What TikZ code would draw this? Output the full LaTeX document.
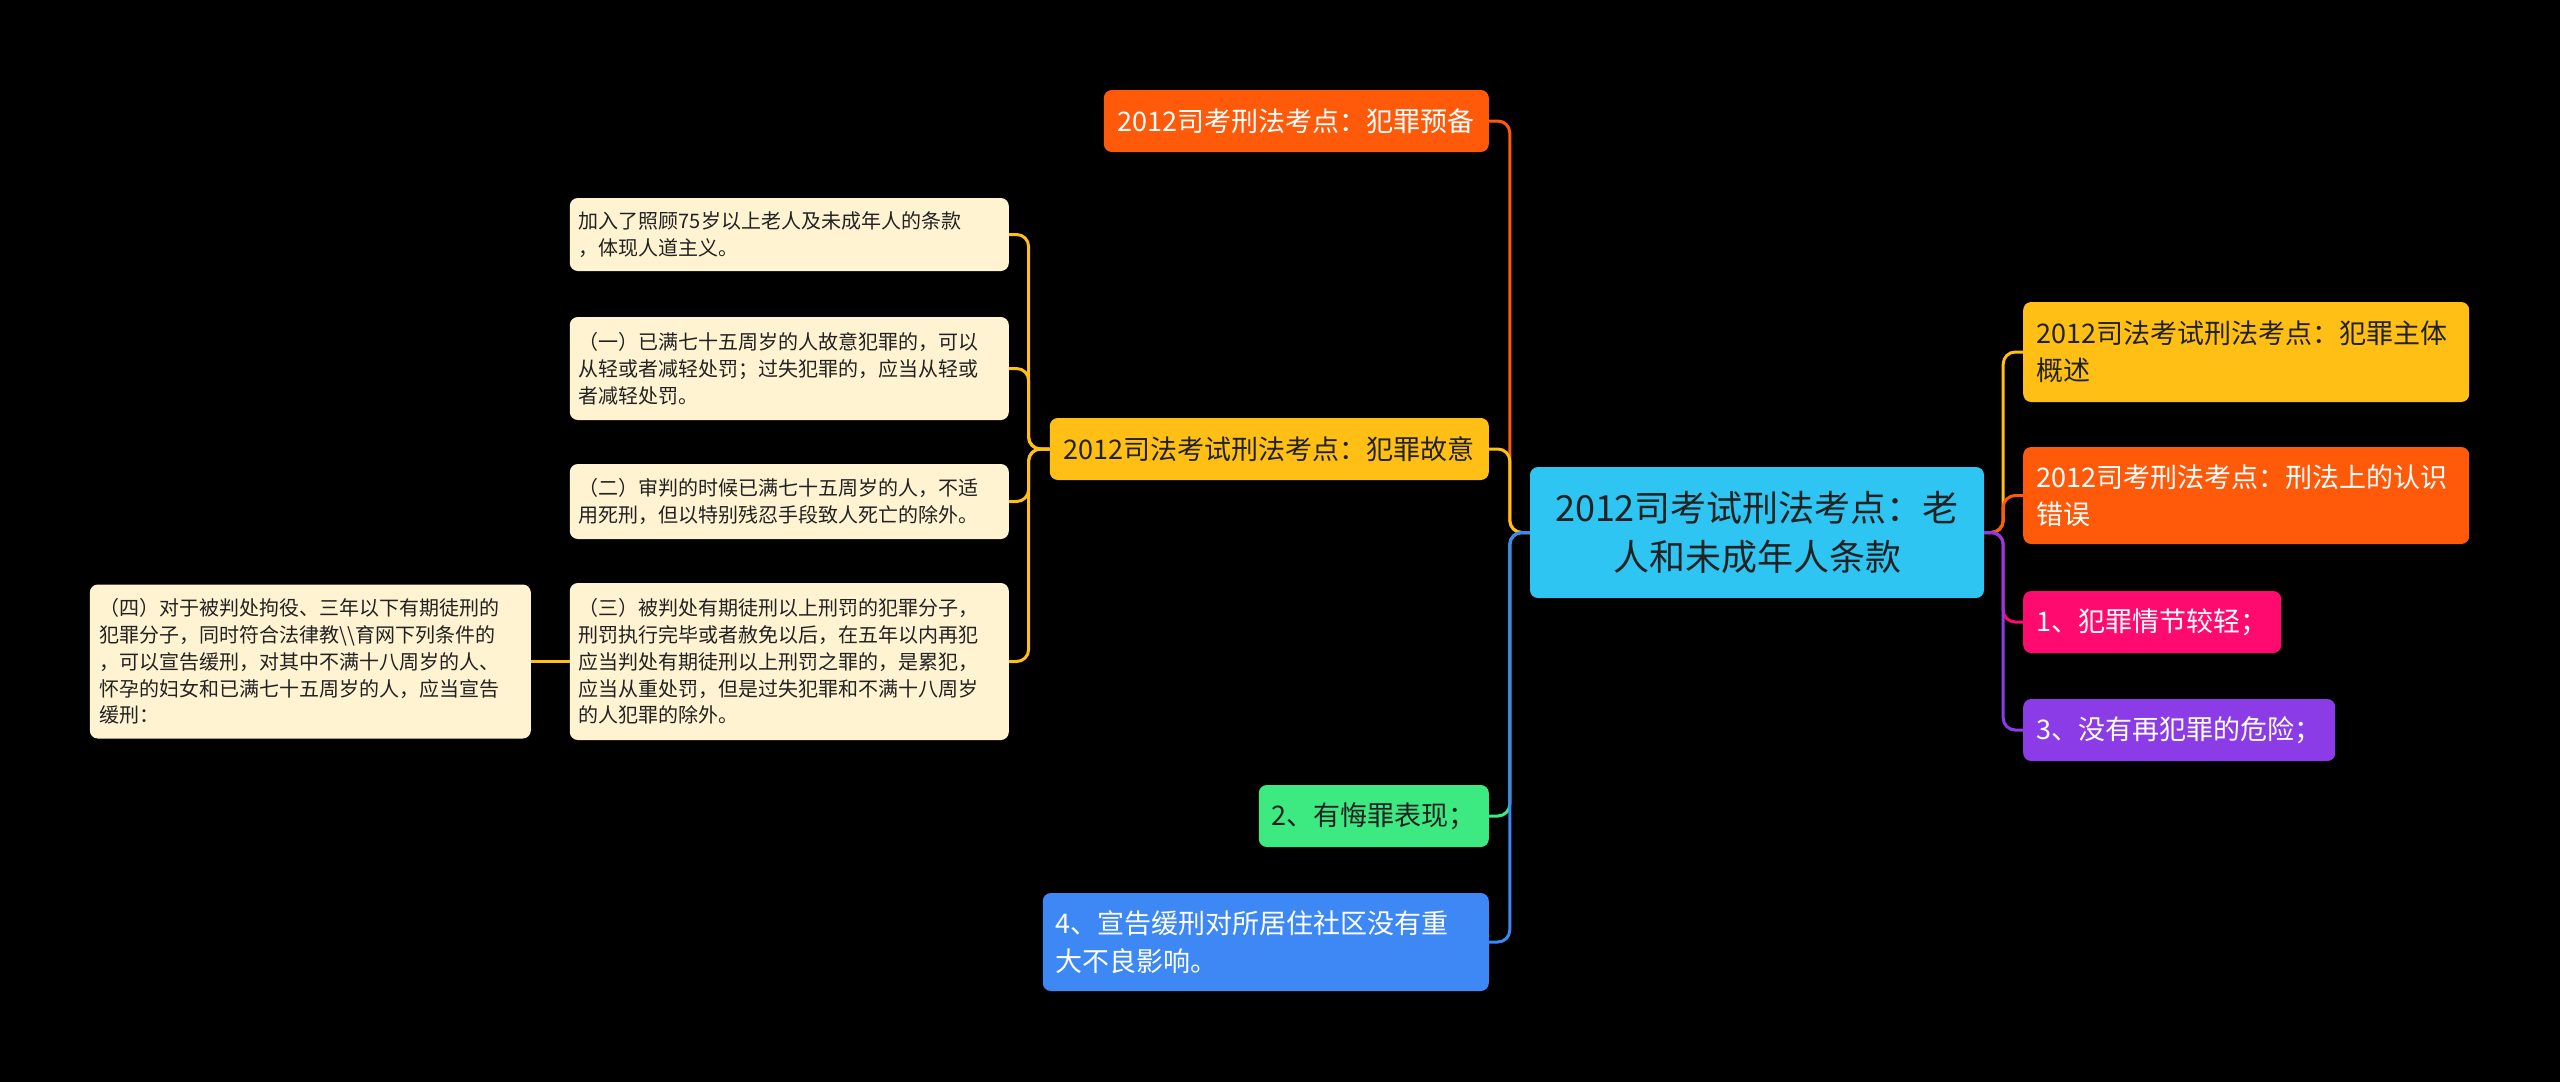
\documentclass[tikz,border=0pt]{standalone}
\usepackage{fontspec}
\setmainfont{Noto Sans CJK SC}
\usetikzlibrary{positioning}

\definecolor{rootblue}{HTML}{2EC5F2}
\definecolor{topicyellow}{HTML}{FFBF14}
\definecolor{topicorange}{HTML}{FF5A0A}
\definecolor{topicpink}{HTML}{FF0A6E}
\definecolor{topicpurple}{HTML}{8C3CE6}
\definecolor{topicgreen}{HTML}{3DEA82}
\definecolor{topicblue}{HTML}{3D88F5}
\definecolor{leafcream}{HTML}{FFF3D2}
\definecolor{darktext}{HTML}{222222}

\begin{document}
\begin{tikzpicture}[
        x=1pt, y=-1pt,
        every node/.style={rounded corners=8pt, inner xsep=0pt, inner ysep=0pt},
        central/.style={fill=rootblue, text=darktext, font=\fontsize{36}{49}\selectfont, align=center, text width=420pt, minimum width=454pt, minimum height=131pt},
        topic/.style={font=\fontsize{27}{37.5}\selectfont, minimum height=62pt},
        wide/.style={text width=420pt, minimum width=446pt, align=left},
        leaf/.style={fill=leafcream, text=darktext, font=\fontsize{20}{26.8}\selectfont, align=left, text width=421pt, minimum width=439pt},
        link/.style={line width=3pt, rounded corners=12pt}
    ]

    % Background
    \fill[black] (0,0) rectangle (2560,1082);

    % Central topic
    \node[central] (root) at (1757,532.5) {2012司考试刑法考点：老\\人和未成年人条款};

    % Right branches
    \node[topic, wide, fill=topicyellow, text=darktext, minimum height=100pt, anchor=west] (subject) at (2023,352) {2012司法考试刑法考点：犯罪主体\\概述};
    \node[topic, wide, fill=topicorange, text=white, minimum height=97pt, anchor=west] (mistake) at (2023,495.5) {2012司考刑法考点：刑法上的认识\\错误};
    \node[topic, fill=topicpink, text=white, minimum width=258pt, anchor=west] (minor) at (2023,622) {1、犯罪情节较轻；};
    \node[topic, fill=topicpurple, text=white, minimum width=312pt, anchor=west] (norisk) at (2023,730) {3、没有再犯罪的危险；};

    % Left branches
    \node[topic, fill=topicorange, text=white, minimum width=385pt, anchor=east] (prep) at (1489,121) {2012司考刑法考点：犯罪预备};
    \node[topic, fill=topicyellow, text=darktext, minimum width=439pt, anchor=east] (intent) at (1489,449) {2012司法考试刑法考点：犯罪故意};
    \node[topic, fill=topicgreen, text=darktext, minimum width=230pt, anchor=east] (repent) at (1489,816) {2、有悔罪表现；};
    \node[topic, wide, fill=topicblue, text=white, minimum height=98pt, anchor=east] (community) at (1489,942) {4、宣告缓刑对所居住社区没有重\\大不良影响。};

    % Details of intent
    \node[leaf, minimum height=73pt, anchor=east] (humane) at (1009,234.5) {加入了照顾75岁以上老人及未成年人的条款\\，体现人道主义。};
    \node[leaf, minimum height=103pt, anchor=east] (elderly) at (1009,368.5) {（一）已满七十五周岁的人故意犯罪的，可以\\从轻或者减轻处罚；过失犯罪的，应当从轻或\\者减轻处罚。};
    \node[leaf, minimum height=75pt, anchor=east] (death) at (1009,501.5) {（二）审判的时候已满七十五周岁的人，不适\\用死刑，但以特别残忍手段致人死亡的除外。};
    \node[leaf, minimum height=157pt, anchor=east] (recid) at (1009,661.5) {（三）被判处有期徒刑以上刑罚的犯罪分子，\\刑罚执行完毕或者赦免以后，在五年以内再犯\\应当判处有期徒刑以上刑罚之罪的，是累犯，\\应当从重处罚，但是过失犯罪和不满十八周岁\\的人犯罪的除外。};
    \node[leaf, minimum width=441pt, minimum height=154pt, anchor=east] (probation) at (531,661.5) {（四）对于被判处拘役、三年以下有期徒刑的\\犯罪分子，同时符合法律教\textbackslash\textbackslash 育网下列条件的\\，可以宣告缓刑，对其中不满十八周岁的人、\\怀孕的妇女和已满七十五周岁的人，应当宣告\\缓刑：};

    % Connectors
    \foreach \n/\c in {prep/topicorange, intent/topicyellow, repent/topicgreen, community/topicblue}
        \draw[link, draw=\c] (root.west) -- ++(-20,0) |- (\n.east);
    \foreach \n/\c in {subject/topicyellow, mistake/topicorange, minor/topicpink, norisk/topicpurple}
        \draw[link, draw=\c] (root.east) -- ++(19,0) |- (\n.west);
    \foreach \n in {humane, elderly, death, recid}
        \draw[link, draw=topicyellow] (intent.west) -- ++(-21,0) |- (\n.east);
    \draw[link, draw=topicyellow] (recid.west) -- (probation.east);

\end{tikzpicture}
\end{document}
